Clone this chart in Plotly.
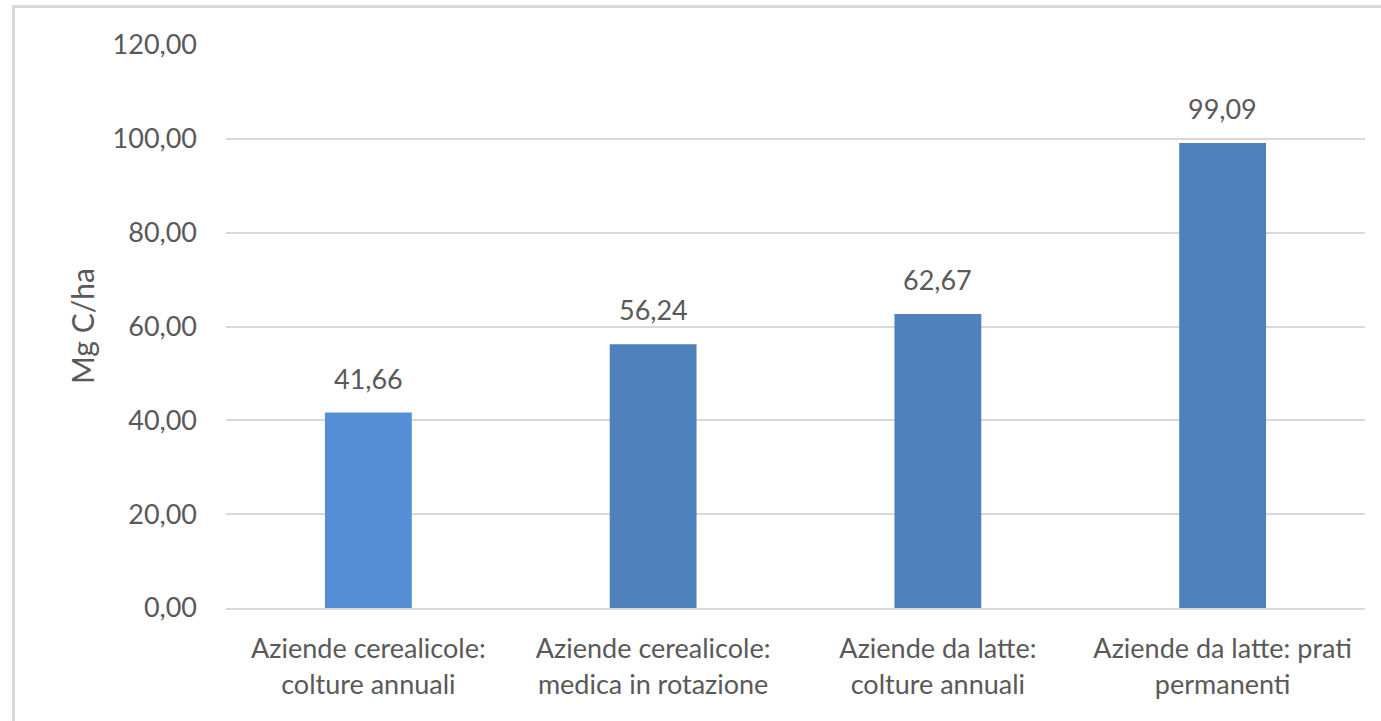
import plotly.graph_objects as go

categories = [
    "Aziende cerealicole:<br>colture annuali",
    "Aziende cerealicole:<br>medica in rotazione",
    "Aziende da latte:<br>colture annuali",
    "Aziende da latte: prati<br>permanenti",
]
values = [41.66, 56.24, 62.67, 99.09]
value_labels = ["41,66", "56,24", "62,67", "99,09"]
bar_colors = ["#558ED5", "#4F81BD", "#4F81BD", "#4F81BD"]
y_title = "Mg C/ha"
y_ticks = [0, 20, 40, 60, 80, 100, 120]

W, H = 1381, 721
FONT = "Lato"
TXT = "#595959"
GRID = "#D9D9D9"

fig = go.Figure(
    go.Bar(
        x=categories,
        y=values,
        marker=dict(color=bar_colors, line=dict(width=0)),
        width=0.305,
        hoverinfo="skip",
    )
)

annotations = [
    dict(
        x=c, y=v, xref="x", yref="y", text=t, showarrow=False,
        yanchor="bottom", xanchor="center", yshift=16,
        font=dict(family=FONT, size=27, color=TXT),
    )
    for c, v, t in zip(categories, values, value_labels)
]
annotations.append(
    dict(
        text=y_title,
        xref="paper",
        yref="paper",
        x=82 / W,
        y=(H - 326) / H,
        showarrow=False,
        textangle=-90,
        font=dict(family=FONT, size=30, color=TXT),
        xanchor="center",
        yanchor="middle",
    )
)

fig.update_layout(
    template="none",
    width=W,
    height=H,
    margin=dict(l=0, r=0, t=0, b=0, pad=0),
    paper_bgcolor="white",
    plot_bgcolor="white",
    separators=",.",
    showlegend=False,
    font=dict(family=FONT, size=27, color=TXT),
    xaxis=dict(
        domain=[226 / W, 1365 / W],
        automargin=False,
        showgrid=False,
        showline=True,
        linecolor=GRID,
        linewidth=2,
        ticks="",
        ticklabelstandoff=16,
        tickfont=dict(family=FONT, size=27, color=TXT),
    ),
    yaxis=dict(
        domain=[(H - 608) / H, (H - 45) / H],
        automargin=False,
        range=[0, 120],
        tickvals=y_ticks,
        tickformat=".2f",
        showgrid=True,
        gridcolor=GRID,
        gridwidth=2,
        zeroline=False,
        showline=False,
        ticks="",
        ticklabelstandoff=28,
        tickfont=dict(family=FONT, size=27, color=TXT),
    ),
    annotations=annotations,
    shapes=[
        dict(type="line", xref="paper", yref="paper",
             x0=13.5 / W, x1=13.5 / W, y0=(H - 5) / H, y1=0,
             line=dict(color=GRID, width=3)),
        dict(type="line", xref="paper", yref="paper",
             x0=12 / W, x1=1, y0=(H - 6.5) / H, y1=(H - 6.5) / H,
             line=dict(color=GRID, width=3)),
    ],
)

fig.write_html(
    "out.html",
    config={"displayModeBar": False},
    post_script="document.body.style.margin='0';document.body.style.overflow='hidden';",
)
